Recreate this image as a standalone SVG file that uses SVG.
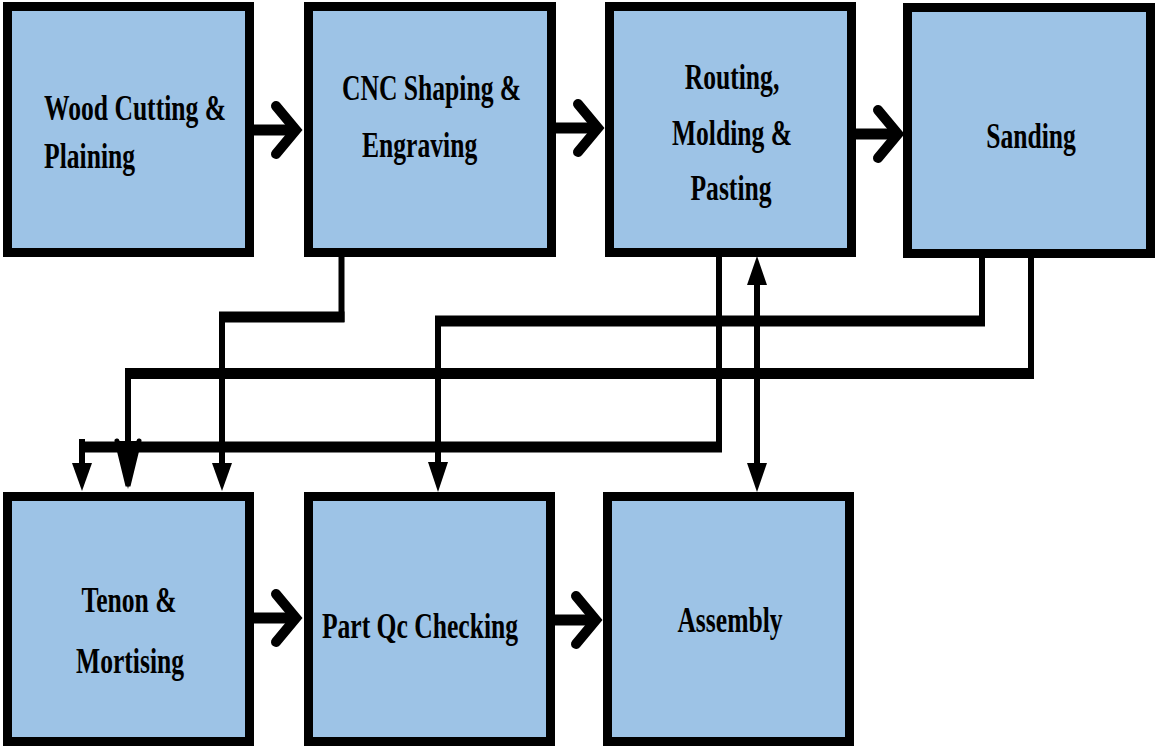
<svg xmlns="http://www.w3.org/2000/svg" width="1155" height="747" viewBox="0 0 1155 747">
  <style>
    .box { fill: #9dc3e6; stroke: #000; stroke-width: 9; }
    .lbl { font-family: "Liberation Serif", "Times New Roman", serif; font-weight: bold; font-size: 32px; fill: #000; }
    .v { stroke: #000; stroke-width: 6; fill: none; }
    .h { stroke: #000; stroke-width: 11; fill: none; }
    .head { fill: #000; }
    .chev { stroke: #000; stroke-width: 10; fill: none; stroke-linecap: round; stroke-linejoin: miter; }
  </style>

  <rect width="1155" height="747" fill="#fff"/>

  <!-- process steps, top row -->
  <g id="wood-cutting">
    <rect class="box" x="7.5" y="6.5" width="242" height="246"/>
    <text class="lbl" transform="translate(44,120) scale(0.8,1.15)">Wood Cutting &amp;</text>
    <text class="lbl" transform="translate(44,168) scale(0.8,1.15)">Plaining</text>
  </g>
  <g id="cnc-shaping">
    <rect class="box" x="308.5" y="6.5" width="243" height="246"/>
    <text class="lbl" transform="translate(342,100) scale(0.8,1.15)">CNC Shaping &amp;</text>
    <text class="lbl" transform="translate(362,157) scale(0.8,1.15)">Engraving</text>
  </g>
  <g id="routing">
    <rect class="box" x="609.5" y="6.5" width="242" height="246"/>
    <text class="lbl" text-anchor="middle" transform="translate(732,89) scale(0.8,1.15)">Routing,</text>
    <text class="lbl" text-anchor="middle" transform="translate(732,145) scale(0.8,1.15)">Molding &amp;</text>
    <text class="lbl" text-anchor="middle" transform="translate(731,200) scale(0.8,1.15)">Pasting</text>
  </g>
  <g id="sanding">
    <rect class="box" x="907.5" y="7.5" width="243" height="246"/>
    <text class="lbl" text-anchor="middle" transform="translate(1031,148) scale(0.8,1.15)">Sanding</text>
  </g>

  <!-- process steps, bottom row -->
  <g id="tenon">
    <rect class="box" x="7.5" y="496.5" width="242" height="245"/>
    <text class="lbl" text-anchor="middle" transform="translate(129,612) scale(0.8,1.15)">Tenon &amp;</text>
    <text class="lbl" text-anchor="middle" transform="translate(130,673) scale(0.8,1.15)">Mortising</text>
  </g>
  <g id="part-qc">
    <rect class="box" x="308.5" y="496.5" width="242" height="245"/>
    <text class="lbl" text-anchor="middle" transform="translate(420,638) scale(0.8,1.15)">Part Qc Checking</text>
  </g>
  <g id="assembly">
    <rect class="box" x="607.5" y="496.5" width="242" height="245"/>
    <text class="lbl" text-anchor="middle" transform="translate(730,632) scale(0.8,1.15)">Assembly</text>
  </g>

  <g id="connectors">
    <!-- straight flow arrows between neighbours -->
    <line class="h" x1="254" y1="130" x2="294" y2="130"/>
    <path class="chev" d="M276,106 L296,130 L276,154"/>
    <line class="h" x1="556" y1="128" x2="596" y2="128"/>
    <path class="chev" d="M578,104 L598,128 L578,152"/>
    <line class="h" x1="856" y1="134" x2="896" y2="134"/>
    <path class="chev" d="M878,110 L898,134 L878,158"/>
    <line class="h" x1="254" y1="618" x2="294" y2="618"/>
    <path class="chev" d="M276,594 L296,618 L276,642"/>
    <line class="h" x1="555" y1="620" x2="594" y2="620"/>
    <path class="chev" d="M576,596 L596,620 L576,644"/>

    <!-- CNC shaping to tenon -->
    <line class="v" x1="341.5" y1="257" x2="341.5" y2="322"/>
    <line class="h" x1="219" y1="317" x2="344.5" y2="317"/>
    <line class="v" x1="222" y1="312" x2="222" y2="465"/>
    <polygon class="head" points="212,463 232,463 222,491"/>

    <!-- routing to tenon -->
    <line class="v" x1="719" y1="256" x2="719" y2="452"/>
    <line class="h" x1="79" y1="447" x2="722" y2="447"/>
    <line class="v" x1="82" y1="439" x2="82" y2="465"/>
    <polygon class="head" points="72,463 92,463 82,491"/>

    <!-- sanding to part QC -->
    <line class="v" x1="982" y1="257" x2="982" y2="326"/>
    <line class="h" x1="435" y1="321" x2="985" y2="321"/>
    <line class="v" x1="438" y1="316" x2="438" y2="465"/>
    <polygon class="head" points="428,462 448,462 438,492"/>

    <!-- sanding to tenon -->
    <line class="v" x1="1031" y1="257" x2="1031" y2="379"/>
    <line class="h" x1="125" y1="373.5" x2="1034" y2="373.5"/>
    <line class="v" x1="128" y1="368" x2="128" y2="450"/>
    <polygon class="head" points="117,441 139,441 128,489"/>
    <path d="M117,441 L128,486 L139,441" stroke="#000" stroke-width="5" fill="none" stroke-linecap="round"/>

    <!-- routing and assembly, both directions -->
    <line class="v" x1="757" y1="280" x2="757" y2="468"/>
    <polygon class="head" points="747,285 767,285 757,256"/>
    <polygon class="head" points="747,463 767,463 757,492"/>
  </g>
</svg>
